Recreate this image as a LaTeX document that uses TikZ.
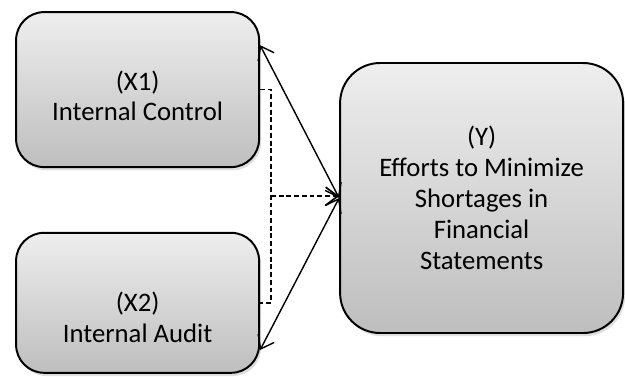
\documentclass[tikz,border=0pt]{standalone}
\usepackage{fontspec}
\setmainfont{Carlito}
\usepackage{xcolor}
\usetikzlibrary{positioning,arrows.meta,calc,shadows}
\definecolor{boxtop}{RGB}{238,238,238}
\definecolor{boxbot}{RGB}{190,190,190}

\begin{document}
\begin{tikzpicture}[every node/.style={font=\fontsize{19}{22}\selectfont}]
  \tikzset{
    varbox/.style={draw, line width=1.4pt, rounded corners=0.7cm, align=center,
      top color=boxtop, bottom color=boxbot,
      drop shadow={shadow xshift=0.05cm, shadow yshift=-0.08cm, opacity=0.25}},
    link/.style={line width=1pt, {Straight Barb[length=0.3cm,width=0.45cm]}-{Straight Barb[length=0.3cm,width=0.45cm]}},
    dlink/.style={line width=1.2pt, dash pattern=on 3.5pt off 2pt}
  }
  \useasboundingbox (0,0) rectangle (15.625,9.4);

  \node[varbox, minimum width=6.075cm, minimum height=3.875cm] (x1) at (3.44,7.16) {\rule{0pt}{0.8cm}(X1)\\Internal Control};
  \node[varbox, minimum width=6.075cm, minimum height=3.5cm]   (x2) at (3.44,1.83) {\rule{0pt}{1.2cm}(X2)\\Internal Audit};
  \node[varbox, rounded corners=1cm, minimum width=7.075cm, minimum height=6.75cm] (y) at (12.04,4.45)
    {(Y)\\Efforts to Minimize\\Shortages in\\Financial\\Statements};

  % solid links
  \draw[link] ([yshift=1.11cm]x1.east) -- (y.west);
  \draw[link] ([yshift=-1.18cm]x2.east) -- (y.west);

  % dashed joint link
  \coordinate (jn) at ($(x1.east)!0.5!(x2.east)+(0.27,0)$);
  \draw[dlink] (x1.east) -- ++(0.27,0) |- (x2.east);
  \draw[dlink, -{Straight Barb[length=0.3cm,width=0.45cm]}] (jn) -- (jn -| y.west);
\end{tikzpicture}
\end{document}
